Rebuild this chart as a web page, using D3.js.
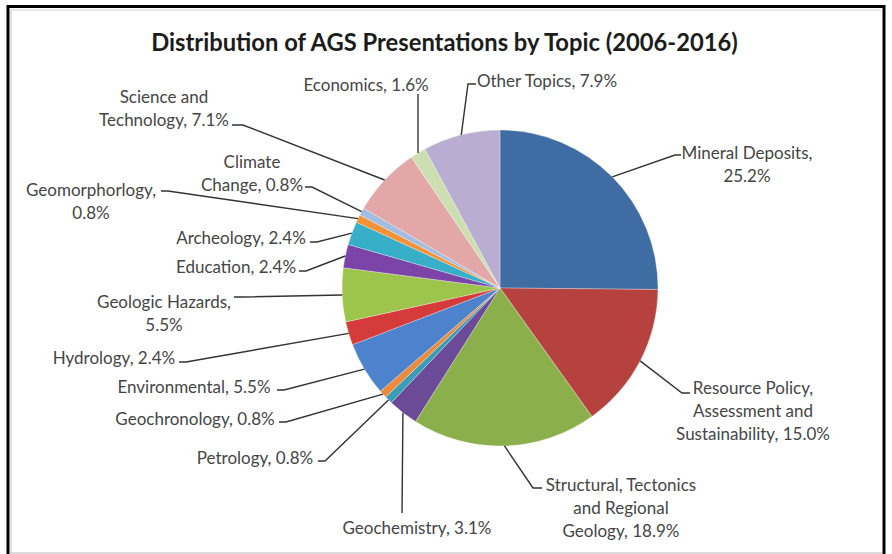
<!DOCTYPE html>
<html lang="en">
<head>
<meta charset="UTF-8">
<title>Distribution of AGS Presentations by Topic (2006-2016)</title>
<script src="https://d3js.org/d3.v7.min.js"></script>
<style>
    body { margin: 0; background: #fff; }
    .slice-label { font-family: Lato, "Liberation Sans", sans-serif; font-size: 17px; fill: #454545; }
    .chart-title { font-family: Lato, "Liberation Sans", sans-serif; font-weight: bold; fill: #1c1c1c; }
    .leader { fill: none; stroke: #333; stroke-width: 1.4; }
</style>
</head>
<body>
<svg id="chart" width="892" height="554"></svg>
<script>
    // values, clockwise from 12 o'clock
    var topics = ['Mineral Deposits', 'Resource Policy, Assessment and Sustainability',
        'Structural, Tectonics and Regional Geology', 'Geochemistry', 'Petrology', 'Geochronology',
        'Environmental', 'Hydrology', 'Geologic Hazards', 'Education', 'Archeology',
        'Geomorphorlogy', 'Climate Change', 'Science and Technology', 'Economics', 'Other Topics'];
    var shares = [25.2, 15.0, 18.9, 3.1, 0.8, 0.8, 5.5, 2.4, 5.5, 2.4, 2.4, 0.8, 0.8, 7.1, 1.6, 7.9];
    var colors = ['#406ca4', '#b5423f', '#8bb04b', '#6b4a97', '#3a9db8', '#ee8a3b',
        '#4d82cd', '#d63b3b', '#9dc54b', '#7b45a8', '#37afc9', '#f39236',
        '#a2bde2', '#e2a7a6', '#cddfb1', '#b9aed2'];
    var title = 'Distribution of AGS Presentations by Topic (2006-2016)';

    // where Excel put each label (manual placement), words per line, leader bend
    var labelLayout = [
        { cx: 747, y: 159, wrap: [2, 1], bend: [675, 155], end: [681, 155] },
        { cx: 753, y: 394, wrap: [2, 2, 2], bend: [682, 393], end: [690, 393] },
        { cx: 621, y: 491, wrap: [2, 2, 2], bend: [533, 488], end: [542, 488] },
        { cx: 417, y: 534, wrap: [2], bend: [402, 513], end: [402, 513] },
        { cx: 255, y: 464, wrap: [2], bend: [325, 461], end: [318, 461] },
        { cx: 195, y: 425, wrap: [2], bend: [286, 422], end: [279, 422] },
        { cx: 194, y: 393, wrap: [2], bend: [284, 390], end: [277, 390] },
        { cx: 114, y: 364, wrap: [2], bend: [186, 362], end: [179, 362] },
        { cx: 164, y: 308, wrap: [2, 1], bend: [243, 297], end: [234, 297] },
        { cx: 236, y: 273, wrap: [2], bend: [306, 271], end: [299, 271] },
        { cx: 241, y: 244, wrap: [2], bend: [317, 242], end: [310, 242] },
        { cx: 91, y: 196, wrap: [1, 1], bend: [168, 191], end: [161, 191] },
        { cx: 252, y: 168, wrap: [1, 2], bend: [312, 187], end: [305, 187] },
        { cx: 164, y: 103, wrap: [2, 2], bend: [243, 125], end: [232, 125] },
        { cx: 366, y: 91, wrap: [2], bend: [418, 94], end: [418, 94] },
        { cx: 547, y: 87, wrap: [3], bend: [468, 84], end: [476, 84] }
    ];

    var data = topics.map((t, i) => ({ topic: t, share: shares[i], color: colors[i], layout: labelLayout[i] }));

    var svg = d3.select('#chart');
    var width = +svg.attr('width');
    var cx = 500, cy = 288, radius = 158;
    var lineGap = 23;

    // outer frame of the pasted chart
    svg.append('rect')
        .attr('x', 8).attr('y', 6.5)
        .attr('width', 876).attr('height', 620)
        .attr('fill', '#fff')
        .attr('stroke', '#000')
        .attr('stroke-width', 3);
    svg.append('path')
        .attr('d', 'M11,556V10H881')
        .attr('fill', 'none')
        .attr('stroke', '#cfcfcf')
        .attr('stroke-width', 1.2);
    svg.append('line')
        .attr('x1', 10).attr('x2', 882)
        .attr('y1', 553).attr('y2', 553)
        .attr('stroke', '#d0d0d0')
        .attr('stroke-width', 1.5);

    // title, squeezed to the width it has in the picture
    var titleText = svg.append('text')
        .attr('class', 'chart-title')
        .attr('x', 444.5)
        .attr('y', 50.5)
        .attr('text-anchor', 'middle')
        .style('font-size', '24px')
        .text(title);
    var tw = titleText.node().getComputedTextLength();
    titleText.style('font-size', (24 * 587 / tw).toFixed(2) + 'px');

    var pie = d3.pie().sort(null).value(d => d.share);
    var arcs = pie(data);
    var arc = d3.arc().innerRadius(0).outerRadius(radius);
    var edge = d3.arc().innerRadius(radius).outerRadius(radius);

    var g = svg.append('g')
        .attr('transform', `translate(${cx},${cy})`);

    g.selectAll('path.slice').data(arcs)
        .enter().append('path')
        .attr('class', 'slice')
        .attr('d', arc)
        .attr('fill', d => d.data.color)
        .attr('stroke', '#fff')
        .attr('stroke-width', 0.5)
        .attr('stroke-opacity', 0.6);

    // leader lines: slice edge -> bend -> short tick at the label
    svg.selectAll('path.leader').data(arcs)
        .enter().append('path')
        .attr('class', 'leader')
        .attr('d', d => {
            var p = edge.centroid(d);
            var L = d.data.layout;
            return d3.line()([[cx + p[0], cy + p[1]], L.bend, L.end]);
        });

    var labels = svg.selectAll('text.slice-label').data(arcs)
        .enter().append('text')
        .attr('class', 'slice-label')
        .attr('text-anchor', 'middle');

    labels.each(function (d) {
        var L = d.data.layout;
        var words = (d.data.topic + ', ' + d.data.share.toFixed(1) + '%').split(' ');
        var k = 0;
        var self = d3.select(this);
        L.wrap.forEach((n, i) => {
            var last = i === L.wrap.length - 1;
            var part = last ? words.slice(k) : words.slice(k, k + n);
            k += n;
            self.append('tspan')
                .attr('x', L.cx)
                .attr('y', L.y + i * lineGap)
                .text(part.join(' '));
        });
    });
</script>
</body>
</html>
